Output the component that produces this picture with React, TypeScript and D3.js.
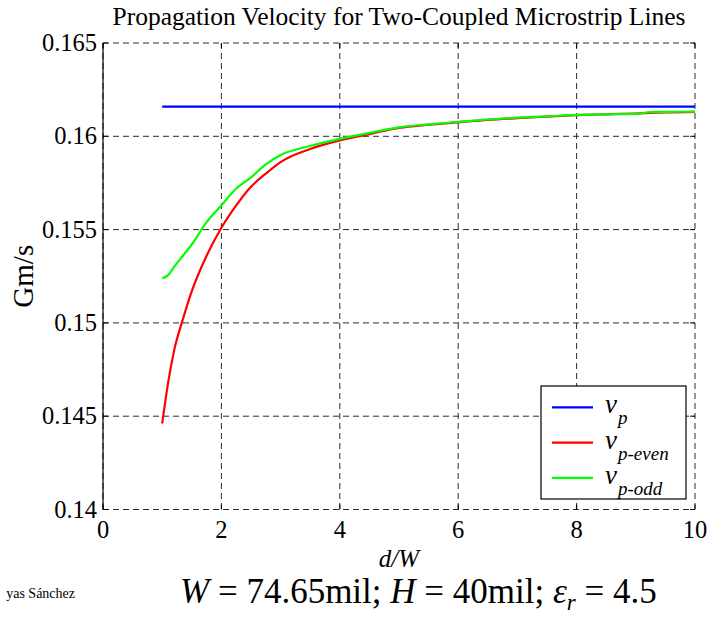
import React from "react";
import * as d3 from "d3";

const dOverW = [1, 1.1, 1.2, 1.35, 1.5, 1.75, 2, 2.25, 2.5, 2.75, 3, 3.5, 4, 4.5, 5, 5.5, 6, 6.5, 7, 7.5, 8, 8.5, 9, 9.25, 9.5, 10];
const vpEven = [0.14461, 0.1468, 0.1485, 0.1502, 0.1517, 0.1536, 0.1551, 0.1563, 0.1573, 0.1580, 0.15862, 0.15932, 0.15978, 0.16012, 0.16045, 0.16062, 0.16075, 0.16088, 0.16097, 0.16105, 0.16113, 0.16118, 0.16122, 0.16125, 0.16128, 0.16131];
const vpOdd = [0.15239, 0.15256, 0.1530, 0.1536, 0.1542, 0.1554, 0.1563, 0.1572, 0.1578, 0.1585, 0.1590, 0.15948, 0.15986, 0.16018, 0.16048, 0.16064, 0.16077, 0.16090, 0.16100, 0.16107, 0.16115, 0.16118, 0.16120, 0.16130, 0.16131, 0.16132];
const vpX = [1, 10];
const vpVal = [0.16159, 0.16159];

const xTicks = [0, 2, 4, 6, 8, 10];
const xTickLabels = ["0", "2", "4", "6", "8", "10"];
const yTicks = [0.14, 0.145, 0.15, 0.155, 0.16, 0.165];
const yTickLabels = ["0.14", "0.145", "0.15", "0.155", "0.16", "0.165"];

const legendLabels = [
  { main: "v", sub: "p", color: "#0000ff" },
  { main: "v", sub: "p-even", color: "#ff0000" },
  { main: "v", sub: "p-odd", color: "#00ff00" },
];

const FONT = "Liberation Serif, Times New Roman, serif";

export default function App() {
  const left = 103, right = 695, top = 43, bottom = 509.5;
  const x = d3.scaleLinear().domain([0, 10]).range([left, right]);
  const y = d3.scaleLinear().domain([0.14, 0.165]).range([bottom, top]);

  const mk = (xs: number[], ys: number[], smooth: boolean) =>
    d3
      .line<number>()
      .x((_, i) => x(xs[i]))
      .y((v) => y(v))
      .curve(smooth ? d3.curveMonotoneX : d3.curveLinear)(ys) || "";

  const series = [
    { path: mk(vpX, vpVal, false), color: "#0000ff" },
    { path: mk(dOverW, vpEven, true), color: "#ff0000" },
    { path: mk(dOverW, vpOdd, true), color: "#00ff00" },
  ];

  const grid = "#2a2a2a";
  const dash = "6,4";

  const lgX0 = 541, lgY0 = 386, lgW = 145, lgH = 113;
  const lgRow = (i: number) => 407.3 + i * 35.3;

  return (
    <svg width={709} height={617} style={{ position: "absolute", left: 0, top: 0, background: "#fff" }}>
      <rect x={0} y={0} width={709} height={617} fill="#fff" />
      {xTicks.map((t) => (
        <line key={"gx" + t} x1={x(t)} x2={x(t)} y1={top} y2={bottom} stroke={grid} strokeDasharray={dash} strokeWidth={1} />
      ))}
      {yTicks.map((t) => (
        <line key={"gy" + t} x1={left} x2={right} y1={y(t)} y2={y(t)} stroke={grid} strokeDasharray={dash} strokeWidth={1} />
      ))}
      {xTicks.map((t) => (
        <g key={"tx" + t}>
          <line x1={x(t)} x2={x(t)} y1={bottom} y2={bottom - 5} stroke="#000" />
          <line x1={x(t)} x2={x(t)} y1={top} y2={top + 5} stroke="#000" />
        </g>
      ))}
      {yTicks.map((t) => (
        <g key={"ty" + t}>
          <line x1={left} x2={left + 5} y1={y(t)} y2={y(t)} stroke="#000" />
          <line x1={right} x2={right - 5} y1={y(t)} y2={y(t)} stroke="#000" />
        </g>
      ))}
      <line x1={left} x2={left} y1={top} y2={bottom} stroke="#000" strokeWidth={1.2} />
      {series.map((s, i) => (
        <path key={i} d={s.path} fill="none" stroke={s.color} strokeWidth={2.2} strokeLinejoin="round" />
      ))}
      {xTicks.map((t, i) => (
        <text key={"lx" + t} x={x(t)} y={537.5} textAnchor="middle" fontSize={24.5} fontFamily={FONT} fill="#000">
          {xTickLabels[i]}
        </text>
      ))}
      {yTicks.map((t, i) => (
        <text key={"ly" + t} x={97} y={y(t)} dy="0.33em" textAnchor="end" fontSize={24.5} fontFamily={FONT} fill="#000">
          {yTickLabels[i]}
        </text>
      ))}
      <text x={(left + right) / 2} y={25} textAnchor="middle" fontSize={25.5} fontFamily={FONT} fill="#000">
        Propagation Velocity for Two-Coupled Microstrip Lines
      </text>
      <text transform={`translate(33, ${(top + bottom) / 2}) rotate(-90)`} textAnchor="middle" fontSize={29} fontFamily={FONT} fill="#000">
        Gm/s
      </text>
      <text x={(left + right) / 2} y={567} textAnchor="middle" fontSize={25} fontStyle="italic" fontFamily={FONT} fill="#000">
        d/W
      </text>
      <text x={180} y={603} fontSize={35} fontFamily={FONT} fill="#000">
        <tspan fontStyle="italic">W</tspan>
        <tspan> = 74.65mil; </tspan>
        <tspan fontStyle="italic">H</tspan>
        <tspan> = 40mil; </tspan>
        <tspan fontStyle="italic">ε</tspan>
        <tspan fontStyle="italic" fontSize={23} dy={7}>r</tspan>
        <tspan dy={-7}> = 4.5</tspan>
      </text>
      <text x={75} y={598} textAnchor="end" fontSize={14} fontFamily={FONT} fill="#000">
        yas Sánchez
      </text>
      <rect x={lgX0} y={lgY0} width={lgW} height={lgH} fill="#fff" stroke="#000" strokeWidth={1.2} />
      {legendLabels.map((l, i) => (
        <g key={"lg" + i}>
          <line x1={552} x2={593} y1={lgRow(i)} y2={lgRow(i)} stroke={l.color} strokeWidth={2.2} />
          <text x={605} y={lgRow(i) + 6} fontSize={27} fontStyle="italic" fontFamily={FONT} fill="#000">
            {l.main}
          </text>
          <text x={618} y={lgRow(i) + 17} fontSize={19} fontStyle="italic" fontFamily={FONT} fill="#000">
            {l.sub}
          </text>
        </g>
      ))}
    </svg>
  );
}
